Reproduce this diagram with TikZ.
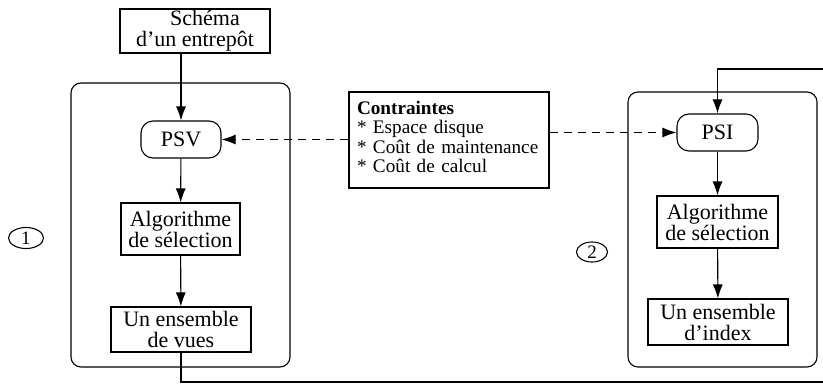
\documentclass[tikz,border=0pt]{standalone}
\usepackage{fontspec}
\setmainfont{Liberation Serif}
\usetikzlibrary{arrows.meta,calc,shapes.geometric}

\tikzset{
  every picture/.style={line width=0.55pt},
  box/.style={draw, rectangle, inner sep=0pt, align=center,
    font=\fontsize{11}{10.5}\selectfont},
  rbox/.style={box, rounded corners=6pt},
  frame/.style={draw, rounded corners=5pt},
  flow/.style={-{Latex[length=7pt,width=5pt]}},
  link/.style={flow, dash pattern=on 4pt off 3pt},
  tag/.style={draw, ellipse, inner sep=0pt, font=\fontsize{9.5}{10}\selectfont}
}

\begin{document}
\begin{tikzpicture}[x=0.5pt, y=-0.5pt]
  \clip (0,0) rectangle (823,385);

  % the two processing frames
  \draw[frame] (71,83) rectangle (290,367);
  \draw[frame] (628,92) rectangle (817,367);

  % left chain: views
  \node[box, minimum width=75pt, minimum height=22pt]
    (schema) at (195,31) {\hspace*{10pt}Schéma\\d'un entrepôt};
  \node[rbox, minimum width=40pt, minimum height=18.5pt]
    (psv) at (181,139.5) {PSV};
  \node[box, minimum width=59.5pt, minimum height=26pt]
    (algL) at (180.5,229) {Algorithme\\de sélection};
  \node[box, minimum width=70pt, minimum height=22.5pt]
    (vues) at (181,329.5) {Un ensemble\\de vues};

  % right chain: indexes
  \node[rbox, minimum width=40.5pt, minimum height=18.5pt]
    (psi) at (717.5,132.5) {PSI};
  \node[box, minimum width=60.5pt, minimum height=26pt]
    (algR) at (717.5,222) {Algorithme\\de sélection};
  \node[box, minimum width=70pt, minimum height=23pt]
    (index) at (718,322) {Un ensemble\\d'index};

  % constraints shared by both chains
  \node[draw, rectangle, inner xsep=4pt, inner ysep=0pt,
        minimum width=100pt, minimum height=48pt,
        text width=92pt, align=left,
        font=\fontsize{9.6}{9.8}\selectfont]
    (cons) at (449,140)
    {\textbf{Contraintes}\\{*} Espace disque\\{*} Coût de maintenance\\{*} Coût de calcul\vspace{3pt}};

  % step numbers
  \node[tag, minimum width=17.5pt, minimum height=10.5pt] (n1) at (26,238) {1};
  \node[tag, minimum width=15.5pt, minimum height=10pt] (n2) at (592,252) {2};

  % flows
  \draw[flow] (schema.south -| psv) -- (psv.north);
  \draw[flow] (psv) -- (algL);
  \draw[flow] (algL) -- (vues);
  \draw[flow] (psi) -- (algR);
  \draw[flow] (algR) -- (index);

  % views feed the index selection
  \coordinate (c1) at (181,382);
  \coordinate (c2) at (830,382);
  \coordinate (c3) at (830,69);
  \coordinate (c4) at (717.5,69);
  \draw[flow] (vues.south) -- (c1) -- (c2) -- (c3) -- (c4) -- (psi.north);

  % constraints act on both selection problems
  \draw[link] (psv.east -| cons.west) -- (psv.east);
  \draw[link] (psi.west -| cons.east) -- (psi.west);
\end{tikzpicture}
\end{document}
